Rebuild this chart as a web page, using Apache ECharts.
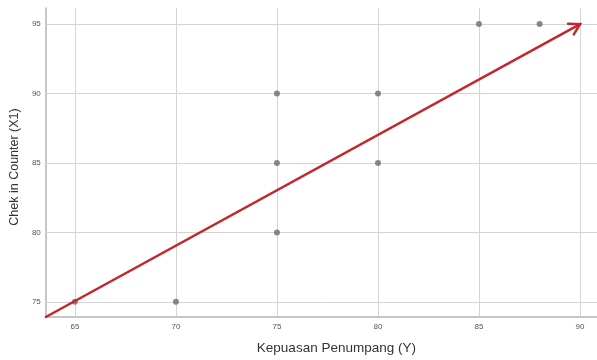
<!DOCTYPE html>
<html>
<head>
<meta charset="utf-8">
<script src="https://cdn.jsdelivr.net/npm/echarts@6/dist/echarts.min.js"></script>
<style>html,body{margin:0;padding:0;background:#fff;}#c{width:597px;height:360px;}</style>
</head>
<body>
<div id="c"></div>
<script>
// Data
var xValues = [65, 70, 75, 75, 75, 80, 80, 85, 88];
var yValues = [75, 75, 80, 85, 90, 85, 90, 95, 95];
var xTicks = [65, 70, 75, 80, 85, 90];
var yTicks = [75, 80, 85, 90, 95];
var arrowStart = [63.56, 73.91];
var arrowEnd = [90, 95];
var xRange = [63.56, 90.84];
var yRange = [73.91, 96.16];

var points = xValues.map(function (x, i) { return [x, yValues[i]]; });
var gridColor = '#d4d4d4';
var chart = echarts.init(document.getElementById('c'), null, { renderer: 'canvas' });

chart.setOption({
  animation: false,
  backgroundColor: '#ffffff',
  grid: { left: 45, right: 0, top: 8, bottom: 39, containLabel: false },
  xAxis: {
    type: 'value', min: xRange[0], max: xRange[1],
    name: 'Kepuasan Penumpang (Y)', nameLocation: 'middle', nameGap: 24,
    nameTextStyle: { fontFamily: 'Liberation Sans', fontSize: 13.5, color: '#333', padding: [0, 0, 0, 30] },
    axisLine: { show: true, lineStyle: { color: '#b4b4b4', width: 1.5 } },
    axisTick: { show: false },
    splitLine: { show: false },
    axisLabel: { customValues: xTicks, fontFamily: 'Liberation Sans', fontSize: 8, color: '#555', margin: 6 }
  },
  yAxis: {
    type: 'value', min: yRange[0], max: yRange[1],
    name: 'Chek in Counter (X1)', nameLocation: 'middle', nameGap: 23, nameRotate: 90,
    nameTextStyle: { fontFamily: 'Liberation Sans', fontSize: 12.5, color: '#333', padding: [0, 9, 0, 0] },
    axisLine: { show: true, lineStyle: { color: '#b4b4b4', width: 1.5 } },
    axisTick: { show: false },
    splitLine: { show: false },
    axisLabel: { customValues: yTicks, fontFamily: 'Liberation Sans', fontSize: 8, color: '#555', margin: 5 }
  },
  series: [
    {
      type: 'scatter', data: points, symbolSize: 6, z: 3,
      itemStyle: { color: '#6b6b6b' },
      markLine: {
        silent: true, z: 1, symbol: ['none', 'none'], label: { show: false },
        lineStyle: { color: gridColor, width: 1, type: 'solid' },
        data: xTicks.map(function (v) { return { xAxis: v }; })
          .concat(yTicks.map(function (v) { return { yAxis: v }; }))
      }
    },
    {
      type: 'custom', z: 5,
      data: [[arrowStart[0], arrowStart[1], arrowEnd[0], arrowEnd[1]]],
      renderItem: function (params, api) {
        var p0 = api.coord([api.value(0), api.value(1)]);
        var p1 = api.coord([api.value(2), api.value(3)]);
        var ang = Math.atan2(p0[1] - p1[1], p0[0] - p1[0]);
        var L = 12, a = Math.PI / 6;
        var h1 = [p1[0] + L * Math.cos(ang + a), p1[1] + L * Math.sin(ang + a)];
        var h2 = [p1[0] + L * Math.cos(ang - a), p1[1] + L * Math.sin(ang - a)];
        var style = { stroke: '#c4262e', lineWidth: 2.5, fill: null, lineCap: 'round', lineJoin: 'miter' };
        return {
          type: 'group',
          children: [
            { type: 'line', shape: { x1: p0[0], y1: p0[1], x2: p1[0], y2: p1[1] }, style: style },
            { type: 'polyline', shape: { points: [h1, p1, h2] }, style: style }
          ]
        };
      }
    }
  ]
});
</script>
</body>
</html>
